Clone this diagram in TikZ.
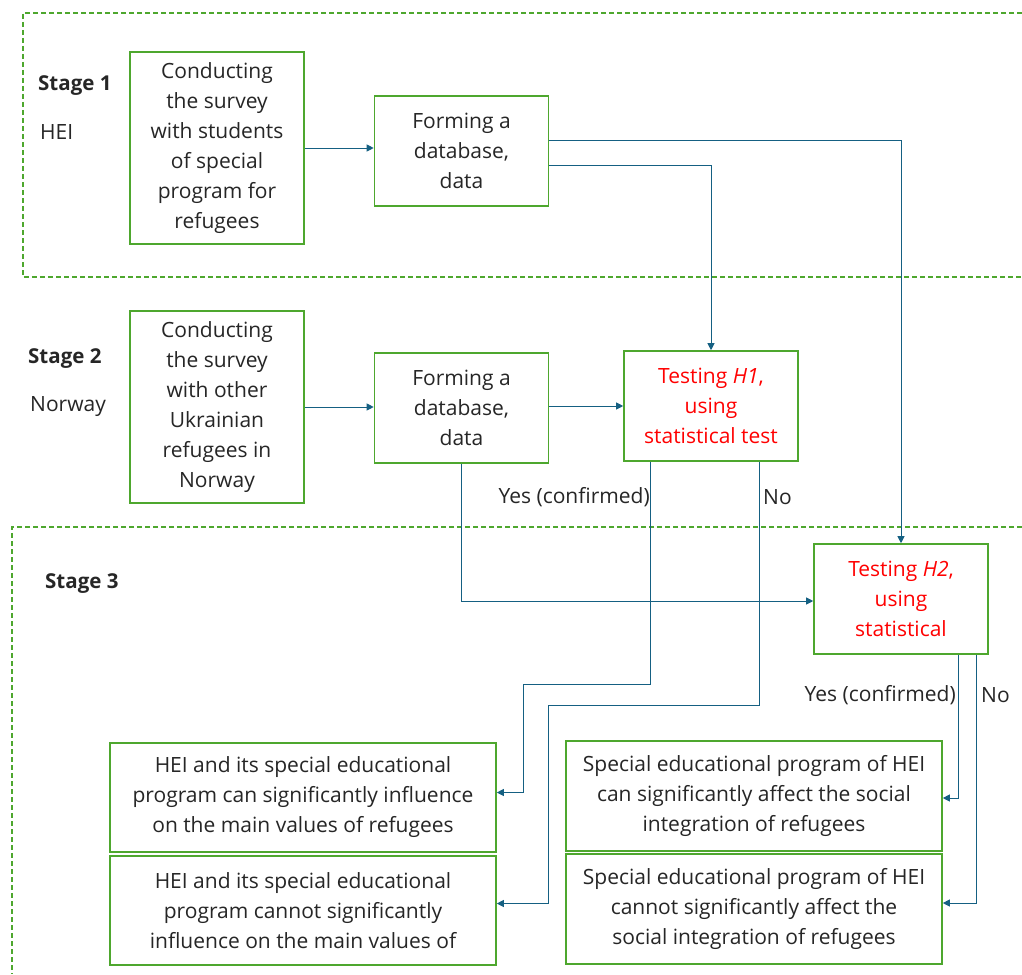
\documentclass[tikz,border=0pt]{standalone}
\usepackage{fontspec}
\setmainfont{Open Sans}
\usetikzlibrary{arrows.meta,calc}
\definecolor{boxgreen}{HTML}{4EA72E}
\definecolor{conncol}{HTML}{156082}
\definecolor{txt}{HTML}{262626}
\tikzset{
  box/.style={draw=boxgreen, line width=1.6pt, align=center, text=txt, inner sep=0pt,
    font=\fontsize{21}{30}\selectfont},
  smallbox/.style={box, minimum width=174pt, minimum height=110pt},
  tallbox/.style={box, minimum width=174pt, minimum height=192pt},
  widebox/.style={box, minimum width=386pt, minimum height=109pt},
  rightbox/.style={box, minimum width=376pt, minimum height=110pt},
  redtxt/.style={text=red},
  conn/.style={draw=conncol, line width=0.9pt, -{Triangle[width=7pt,length=7pt]}},
  lbl/.style={text=txt, font=\fontsize{21}{24}\selectfont, inner sep=0pt},
  stagelbl/.style={lbl, font=\fontsize{20.5}{24}\selectfont\bfseries},
  stageframe/.style={draw=boxgreen, line width=1.2pt, dash pattern=on 5pt off 3pt},
}
\begin{document}
\begin{tikzpicture}[x=1pt,y=-1pt]
\useasboundingbox[fill=white] (0,0) rectangle (1022,974);
% stage frames
\draw[stageframe] (1022,13) -- (23,13) -- (23,277) -- (1022,277);
\draw[stageframe] (1022,527) -- (12,527) -- (12,974);
% stage labels
\node[stagelbl, anchor=west] (s1) at (38,86) {Stage 1};
\node[lbl, anchor=west] (s1b) at (40,132) {HEI};
\node[stagelbl, anchor=west] (s2) at (28,359) {Stage 2};
\node[lbl, anchor=west] (s2b) at (30,407) {Norway};
\node[stagelbl, anchor=west] (s3) at (45,584) {Stage 3};
% boxes
\node[tallbox] (a1) at (217,148) {Conducting\\the survey\\with students\\of special\\program for\\refugees};
\node[smallbox] (b1) at (461.5,151) {Forming a\\database,\\data};
\node[tallbox] (a2) at (217,407) {Conducting\\the survey\\with other\\Ukrainian\\refugees in\\Norway};
\node[smallbox] (b2) at (461.5,408) {Forming a\\database,\\data};
\node[smallbox, redtxt] (h1) at (711,406) {Testing \textit{H1},\\using\\statistical test};
\node[smallbox, redtxt] (h2) at (901,599) {Testing \textit{H2},\\using\\statistical};
\node[widebox] (c1) at (303,797.5) {HEI and its special educational\\program can significantly influence\\on the main values of refugees};
\node[widebox] (c2) at (303,910.5) {HEI and its special educational\\program cannot significantly\\influence on the main values of};
\node[rightbox] (d1) at (754,796) {Special educational program of HEI\\can significantly affect the social\\integration of refugees};
\node[rightbox] (d2) at (754,909) {Special educational program of HEI\\cannot significantly affect the\\social integration of refugees};
% connectors
\draw[conn] (a1.east) -- (a1.east -| b1.west);
\draw[conn] (a2.east) -- (a2.east -| b2.west);
\draw[conn] (b2.east |- h1.west) -- (h1.west);
\draw[conn] ([yshift=11pt]b1.east) -| (h2.north);
\draw[conn] ([yshift=-14pt]b1.east) -| (h1.north);
\draw[conn] (b2.south) |- ([yshift=-2pt]h2.west);
\draw[conn] ([xshift=27pt]h1.south west) |- ++(-127,223) |- ([yshift=5pt]c1.east);
\draw[conn] ([xshift=-39pt]h1.south east) |- ++(-211,244) |- ([yshift=7pt]c2.east);
\draw[conn] ([xshift=-30pt]h2.south east) |- ([yshift=-2pt]d1.east);
\draw[conn] ([xshift=-12pt]h2.south east) |- ([yshift=6pt]d2.east);
% branch labels
\node[lbl, anchor=east] (y1) at (650,497) {Yes (confirmed)};
\node[lbl, anchor=west] (n1) at (763,497) {No};
\node[lbl, anchor=east] (y2) at (956,695) {Yes (confirmed)};
\node[lbl, anchor=west] (n2) at (981,695) {No};
\end{tikzpicture}
\end{document}
